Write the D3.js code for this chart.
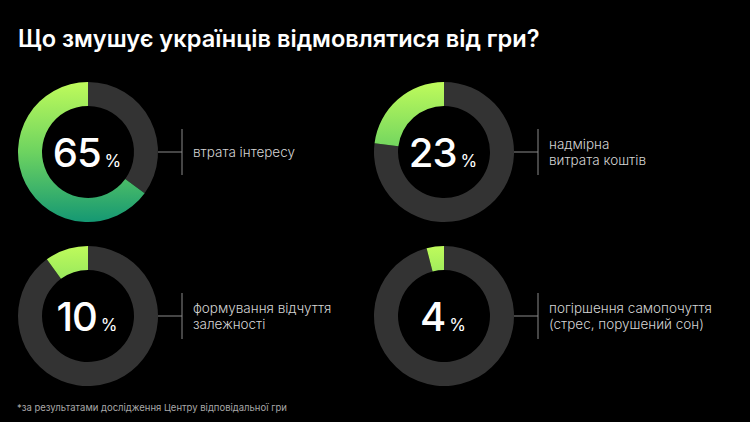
<!DOCTYPE html>
<html>
<head>
<meta charset="utf-8">
<script src="https://cdn.jsdelivr.net/npm/d3@7"></script>
<style>
  html, body { margin: 0; padding: 0; background: #000; }
  svg { display: block; }
</style>
</head>
<body>
<svg id="chart" width="750" height="422"></svg>
<script>
var title = "Що змушує українців відмовлятися від гри?";
var footnote = "*за результатами дослідження Центру відповідальної гри";
var values = [65, 23, 10, 4];
var labels = [
  ["втрата інтересу"],
  ["надмірна", "витрата коштів"],
  ["формування відчуття", "залежності"],
  ["погіршення самопочуття", "(стрес, порушений сон)"]
];

var svg = d3.select("#chart");
var width = +svg.attr("width");
var height = +svg.attr("height");
var outer = 70, inner = 46;

svg.append("rect").attr("width", width).attr("height", height).attr("fill", "#000");

svg.append("text")
  .attr("x", 18).attr("y", 47)
  .attr("fill", "#fff")
  .style("font-family", "Inter, 'Noto Sans', sans-serif")
  .style("font-weight", 600)
  .style("font-size", "23.6px")
  .text(title);

svg.append("text")
  .attr("x", 17).attr("y", 411)
  .attr("fill", "#a8a8a8")
  .style("font-family", "Inter, 'Noto Sans', sans-serif")
  .style("font-size", "9.5px")
  .text(footnote);

// grid positions of the four donuts
var col = d3.scaleOrdinal().domain([0, 1]).range([88, 444]);
var row = d3.scaleOrdinal().domain([0, 1]).range([152, 316]);

var pie = d3.pie().sort(null).value(function(d) { return d; });
var arc = d3.arc().innerRadius(inner).outerRadius(outer);

var defs = svg.append("defs");

values.forEach(function(v, i) {
  var cx = col(i % 2), cy = row(Math.floor(i / 2));

  var grad = defs.append("linearGradient")
    .attr("id", "g" + i)
    .attr("gradientUnits", "userSpaceOnUse")
    .attr("x1", 0).attr("y1", -outer)
    .attr("x2", 0).attr("y2", outer);
  grad.append("stop").attr("offset", "0%").attr("stop-color", "#bffb5b");
  grad.append("stop").attr("offset", "50%").attr("stop-color", "#6dd360");
  grad.append("stop").attr("offset", "100%").attr("stop-color", "#159873");

  var g = svg.append("g").attr("transform", "translate(" + cx + "," + cy + ")");

  g.selectAll("path")
    .data(pie([100 - v, v]))
    .enter().append("path")
      .attr("d", arc)
      .attr("fill", function(d, j) { return j == 0 ? "#333333" : "url(#g" + i + ")"; });

  var num = g.append("text")
    .attr("y", 15)
    .attr("fill", "#fff")
    .style("font-family", "Inter, 'Noto Sans', sans-serif");
  num.append("tspan")
    .style("font-size", "40px")
    .style("font-weight", 500)
    .style("letter-spacing", "-1px")
    .text(v);
  num.append("tspan")
    .attr("dx", 4)
    .style("font-size", "17px")
    .style("font-weight", 400)
    .text("%");
  var bb = num.node().getBBox();
  num.attr("x", -bb.width / 2 - 1);

  // connector
  var lx = outer + 24;
  g.append("line")
    .attr("x1", outer).attr("x2", lx)
    .attr("y1", 0).attr("y2", 0)
    .attr("stroke", "#8a8a8a").attr("stroke-width", 1);
  g.append("line")
    .attr("x1", lx).attr("x2", lx)
    .attr("y1", -23).attr("y2", 23)
    .attr("stroke", "#8a8a8a").attr("stroke-width", 1);

  var lines = labels[i];
  var t = g.append("text")
    .attr("fill", "#d4d4d4")
    .style("font-family", "Inter, 'Noto Sans', sans-serif")
    .style("font-weight", 300)
    .style("font-size", "13.5px");
  lines.forEach(function(s, k) {
    t.append("tspan")
      .attr("x", lx + 11)
      .attr("y", 5 + (k - (lines.length - 1) / 2) * 16)
      .text(s);
  });
});
</script>
</body>
</html>
